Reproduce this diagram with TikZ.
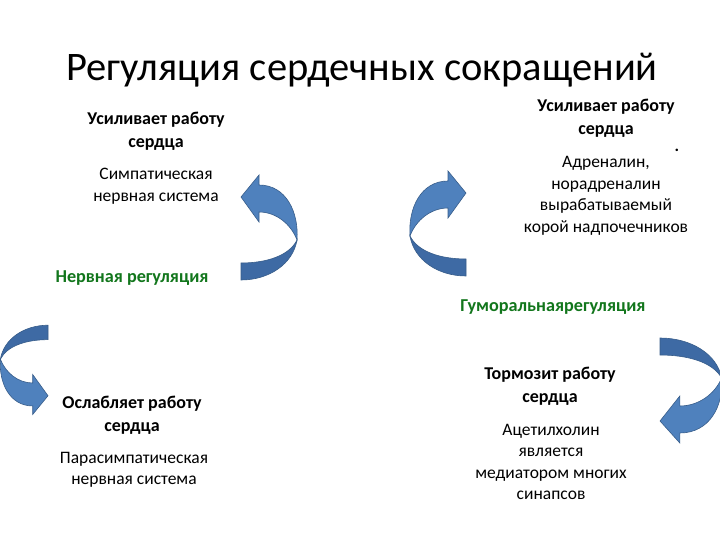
\documentclass[tikz,border=0pt]{standalone}
\usepackage{fontspec}
\setmainfont{Carlito}
\usepackage{xcolor}
\usetikzlibrary{positioning}
\definecolor{arrowlight}{RGB}{79,129,189}
\definecolor{arrowdark}{RGB}{62,106,164}
\definecolor{arrowline}{RGB}{56,93,138}
\definecolor{reggreen}{RGB}{18,118,28}
\tikzset{
  ttl/.style={font=\fontsize{40.5}{46}\selectfont, inner sep=0pt},
  head/.style={align=center, inner sep=0pt, font=\fontsize{18}{23}\selectfont\bfseries},
  body/.style={align=center, inner sep=0pt, font=\fontsize{17.5}{21.5}\selectfont},
  reg/.style={inner sep=0pt, text=reggreen, font=\fontsize{18.2}{21}\selectfont\bfseries},
  curvarrow/.pic={
    % upper part with the head
    \filldraw[fill=arrowlight, draw=arrowline, line width=0.6pt]
      (18,-47) .. controls (45,-47) and (58,-20) .. (56,8)
      .. controls (50,-8) and (35,-20) .. (18,-20)
      -- (18,-10) -- (0,-35) -- (18,-57) -- cycle;
    % lower, turned part
    \filldraw[fill=arrowdark, draw=arrowline, line width=0.6pt]
      (56,8) .. controls (52,32) and (28,48) .. (0,48)
      -- (0,31) .. controls (25,31) and (48,24) .. (56,8) -- cycle;
  }
}
\begin{document}
\begin{tikzpicture}[x=1pt, y=-1pt]
  \useasboundingbox (0,0) rectangle (720,540);

  \node[ttl] (title) at (362,70) {Регуляция сердечных сокращений};

  % nervous regulation
  \node[head] (symhead) at (156,131) {Усиливает работу\\сердца};
  \node[body] (symbody) at (156,186) {Симпатическая\\нервная система};
  \node[reg] (nerv) at (132,278) {Нервная регуляция};
  \node[head] (parhead) at (132,415) {Ослабляет работу\\сердца};
  \node[body] (parbody) at (134,470) {Парасимпатическая\\нервная система};

  % humoral regulation
  \node[head] (adrhead) at (606,118) {Усиливает работу\\сердца};
  \node[inner sep=0pt, font=\fontsize{17}{20}\selectfont\bfseries] (dot) at (677,150) {.};
  \node[body] (adrbody) at (606,196) {Адреналин,\\норадреналин\\вырабатываемый\\корой надпочечников};
  \node[reg] (hum) at (553,307) {Гуморальнаярегуляция};
  \node[head] (acehead) at (550,386) {Тормозит работу\\сердца};
  \node[body] (acebody) at (551,462) {Ацетилхолин\\является\\медиатором многих\\синапсов};

  % curved arrows
  \pic at (241,232) {curvarrow};
  \pic[xscale=-1] at (466,228) {curvarrow};
  \pic[rotate=180, scale=0.85] at (48,366) {curvarrow};
  \pic[yscale=-1, xscale=1.1] at (660,386) {curvarrow};
\end{tikzpicture}
\end{document}
